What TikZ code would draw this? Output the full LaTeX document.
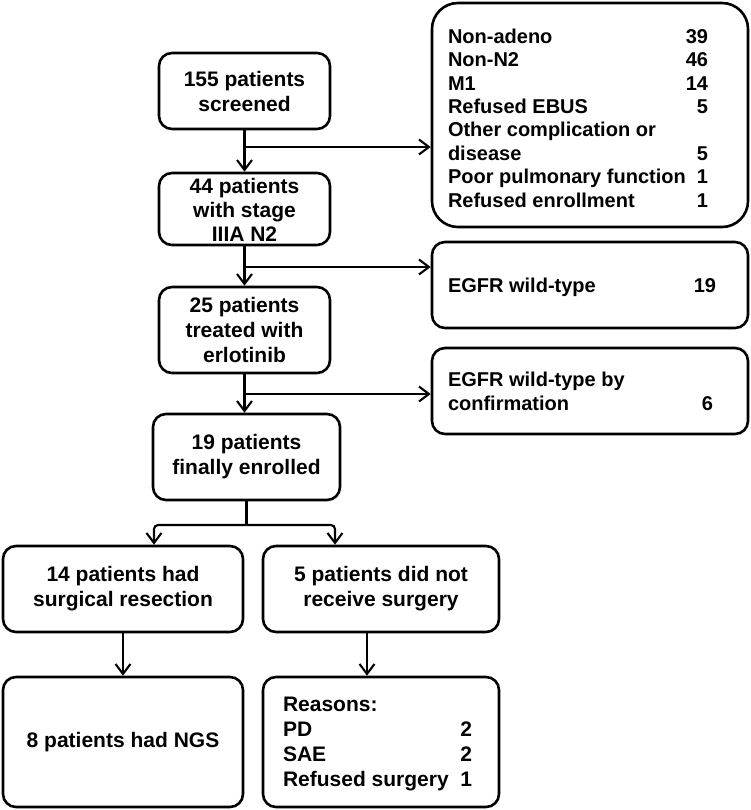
\documentclass[tikz,border=0pt]{standalone}
\usepackage{fontspec}
\setmainfont{Liberation Sans}
\usetikzlibrary{arrows.meta,calc}
\begin{document}
\begin{tikzpicture}[x=1pt,y=-1pt,
 box/.style={draw,line width=2.6pt,rounded corners=13pt,inner sep=0pt},
 arr/.style={line width=2.1pt,-{Straight Barb[length=10pt,width=15pt]}},
 lbl/.style={align=center,font=\fontsize{21}{25}\selectfont\bfseries,inner sep=0pt},
 rlbl/.style={align=left,font=\fontsize{20}{23.4}\selectfont\bfseries,inner sep=0pt},
 hlbl/.style={align=left,font=\fontsize{21}{25}\selectfont\bfseries,inner sep=0pt}]
\fill[white] (0,0) rectangle (751,810);
\useasboundingbox (0,0) rectangle (751,810);

% left column
\node[box,lbl,minimum width=171pt,minimum height=76pt] (A) at (244.5,91) {155 patients\\screened};
\node[box,minimum width=171pt,minimum height=72pt] (B) at (244.5,209) {};
\node[lbl,font=\fontsize{21}{24}\selectfont\bfseries] (Bt) at (244.5,209.5) {44 patients\\with stage\\IIIA N2};
\node[box,lbl,minimum width=171pt,minimum height=86pt] (C) at (244.5,330) {25 patients\\treated with\\erlotinib};
\node[box,lbl,minimum width=187pt,minimum height=86pt] (D) at (246.5,457) {19 patients\\finally enrolled};
\node[box,lbl,minimum width=240pt,minimum height=86pt] (E) at (123,589) {14 patients had\\surgical resection};
\node[box,lbl,minimum width=240pt,minimum height=130pt] (F) at (123,742) {8 patients had NGS};
\node[box,lbl,minimum width=236pt,minimum height=86pt] (G) at (381,589) {5 patients did not\\receive surgery};
\node[box,minimum width=236pt,minimum height=130pt] (H) at (381,742) {};
\node[hlbl] (Ht) at (377.5,744) {\makebox[189pt][l]{Reasons:}\\\makebox[189pt]{PD\hfill 2}\\\makebox[189pt]{SAE\hfill 2}\\\makebox[189pt]{Refused surgery\hfill 1}};

% right column
\node[box,rounded corners=26pt,minimum width=316pt,minimum height=224pt] (R1) at (590,115) {};
\node[rlbl] (R1t) at (578,118) {\makebox[260pt]{Non-adeno\hfill 39}\\\makebox[260pt]{Non-N2\hfill 46}\\\makebox[260pt]{M1\hfill 14}\\\makebox[260pt]{Refused EBUS\hfill 5}\\\makebox[260pt][l]{Other complication or}\\\makebox[260pt]{disease\hfill 5}\\\makebox[260pt]{Poor pulmonary function\hfill 1}\\\makebox[260pt]{Refused enrollment\hfill 1}};
\node[box,minimum width=316pt,minimum height=86pt] (R2) at (590,285) {};
\node[rlbl] (R2t) at (582,287) {\makebox[268pt]{EGFR wild-type\hfill 19}};
\node[box,minimum width=316pt,minimum height=86pt] (R3) at (590,391) {};
\node[rlbl] (R3t) at (580.5,391.5) {\makebox[265pt][l]{EGFR wild-type by}\\\makebox[265pt]{confirmation\hfill 6}};

% branch levels
\coordinate (y1) at (0,147);
\coordinate (y2) at (0,267);
\coordinate (y3) at (0,394);
\coordinate (yj) at (0,525);

\draw[arr] (A.south) -- (B.north);
\draw[arr] (A.south |- y1) -- (R1.west |- y1);
\draw[arr] (B.south) -- (C.north);
\draw[arr] (B.south |- y2) -- (R2.west |- y2);
\draw[arr] (C.south) -- (C.south |- D.north);
\draw[arr] (C.south |- y3) -- (R3.west |- y3);

\coordinate (j) at (D.south |- yj);
\draw[line width=2.1pt] (D.south) -- (j);
\draw[arr,rounded corners=4pt] (j) -| ([xshift=31pt]E.north);
\draw[arr,rounded corners=4pt] (j) -| ([xshift=-46pt]G.north);
\draw[arr] (E.south) -- (F.north);
\draw[arr] ([xshift=-14pt]G.south) -- ([xshift=-14pt]H.north);
\end{tikzpicture}
\end{document}
